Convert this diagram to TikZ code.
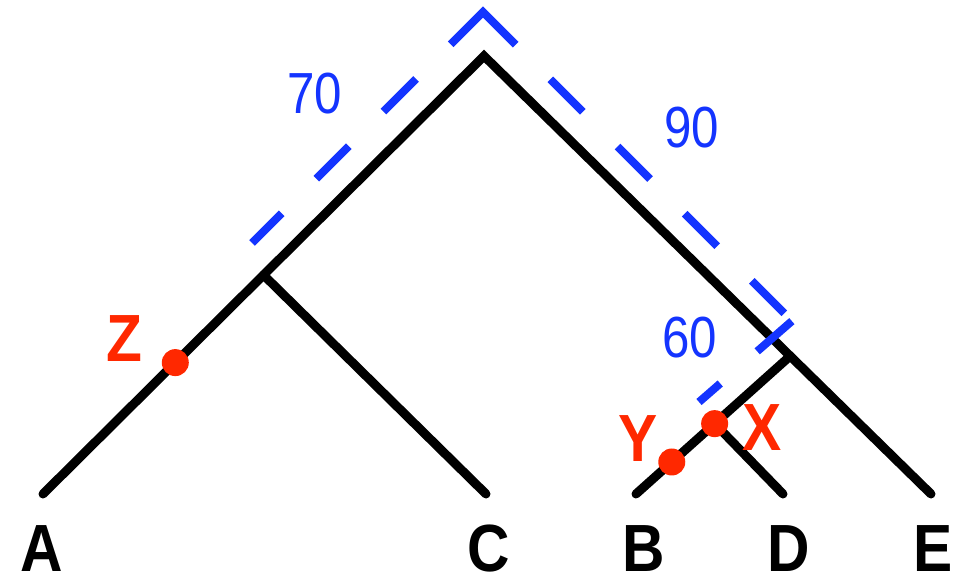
\documentclass[tikz,border=0pt]{standalone}
\usepackage{fontspec}
\setmainfont{Liberation Sans}
\usetikzlibrary{calc}

\definecolor{distblue}{RGB}{20,52,255}
\definecolor{mutred}{RGB}{255,40,0}

\begin{document}
\begin{tikzpicture}[
      x=0.02cm, y=-0.02cm,
      branch/.style={line width=0.18cm, line cap=round, line join=miter},
      bracket/.style={distblue, line width=0.16cm, line cap=butt, line join=miter},
      taxon/.style={font=\fontsize{38}{40}\selectfont\bfseries, inner sep=0pt, xscale=0.88},
      dist/.style={distblue, font=\fontsize{33}{36}\selectfont, inner sep=0pt, xscale=0.85},
      mut/.style={circle, fill=mutred, inner sep=0pt, minimum size=0.54cm},
      mutlabel/.style={mutred, font=\fontsize{38}{40}\selectfont\bfseries, inner sep=0pt, xscale=0.88}
  ]
      \useasboundingbox (0,0) rectangle (954,578);

      % Baumknoten
      \coordinate (root) at (484,56);
      \coordinate (tipA) at (43,494);
      \coordinate (tipC) at (486,494);
      \coordinate (tipB) at (636,494);
      \coordinate (tipD) at (783,494);
      \coordinate (tipE) at (931,494);
      \coordinate (nAC)  at ($(root)!0.5!(tipA)$);
      \coordinate (nBDE) at ($(root)!0.685!(tipE)$);
      \coordinate (nBD)  at ($(nBDE)!0.49!(tipB)$);

      % Aeste
      \draw[branch] (tipA) -- (root) -- (tipE);
      \draw[branch] (nAC) -- (tipC);
      \draw[branch] (nBDE) -- (tipB);
      \draw[branch] (nBD) -- (tipD);

      % Klammern fuer Abstaende
      \coordinate (brL)   at (252,243);
      \coordinate (brTop) at (483,12);
      \coordinate (brR)   at (792,321);
      \coordinate (brEnd) at (699,402);
      \draw[bracket, dash pattern=on 0.84cm off 0.98cm on 0.92cm off 0.98cm on 0.92cm off 0.98cm
            on 1.84cm off 0.98cm on 0.92cm off 0.98cm on 0.92cm off 0.98cm on 0.92cm off 0.98cm
            on 0.92cm off 0.22cm on 0.92cm off 0.98cm on 0.6cm off 2cm]
          (brL) -- (brTop) -- (brR) -- (brEnd);

      \node[dist] (d70) at (315,94)  {70};
      \node[dist] (d90) at (692,128) {90};
      \node[dist] (d60) at (690,338) {60};

      % Mutationen
      \node[mut] (z) at ($(nAC)!0.4!(tipA)$) {};
      \node[mut] (x) at (nBD) {};
      \node[mut] (y) at ($(nBDE)!0.768!(tipB)$) {};
      \node[mutlabel] (lz) at (124,339) {Z};
      \node[mutlabel] (lx) at (762,428) {X};
      \node[mutlabel] (ly) at (638,439) {Y};

      % Taxa
      \node[taxon] (A) at (42,549)  {A};
      \node[taxon] (C) at (489,549) {C};
      \node[taxon] (B) at (644,549) {B};
      \node[taxon] (D) at (789,549) {D};
      \node[taxon] (E) at (933,549) {E};
  \end{tikzpicture}
\end{document}
